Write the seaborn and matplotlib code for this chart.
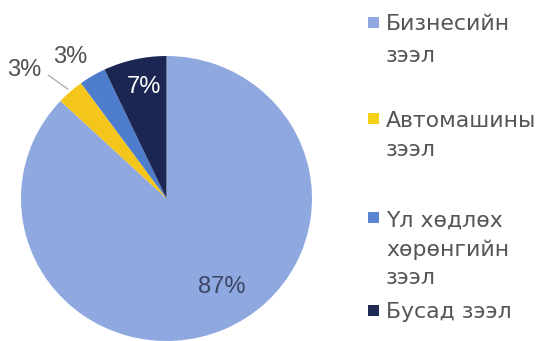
import numpy as np
import matplotlib
matplotlib.use("Agg")
import matplotlib.pyplot as plt
from matplotlib.patches import Rectangle
import seaborn as sns

# Loan portfolio structure (percent)
categories = ["Бизнесийн зээл", "Автомашины зээл", "Үл хөдлөх хөрөнгийн зээл", "Бусад зээл"]
legend_lines = [["Бизнесийн", "зээл"], ["Автомашины", "зээл"],
                ["Үл хөдлөх", "хөрөнгийн", "зээл"], ["Бусад зээл"]]
shares = [87, 3, 3, 7]

colors = ["#8fa8e0", "#f4c51a", "#4d7dcc", "#1c2652"]
legend_colors = ["#8fa8e0", "#f4d21a", "#5b84d2", "#1f2a55"]

sns.set_theme(style="white")
plt.rcParams["font.family"] = ["Liberation Sans", "DejaVu Sans"]

W, H = 543, 341
fig = plt.figure(figsize=(W / 100, H / 100), dpi=100)
fig.patch.set_facecolor("white")

# pie axes: spans the circle's bounding box in pixels
left, right, top, bottom = 21, 312, 56, 341
ax = fig.add_axes([left / W, 1 - bottom / H, (right - left) / W, (bottom - top) / H])

wedges, _ = ax.pie(shares, colors=colors, startangle=90, counterclock=False,
                   radius=1.0, wedgeprops=dict(linewidth=0))
ax.set_aspect("auto")
ax.set_xlim(-1, 1)
ax.set_ylim(-1, 1)
ax.axis("off")

# percentage labels: (radius, angular shift, colour)
label_style = [(0.73, 8, "#3c4566"), (1.33, 6, "#505050"),
               (1.19, 3, "#505050"), (0.80, -1.5, "white")]
for w, val, (r, shift, col) in zip(wedges, shares, label_style):
    mid = np.deg2rad((w.theta1 + w.theta2) / 2 + shift)
    ax.text(r * np.cos(mid), r * np.sin(mid), f"{val}%", ha="center", va="center",
            fontsize=17, color=col, family=["Liberation Sans", "DejaVu Sans"])

# leader line for the yellow slice label
w = wedges[1]
mid = np.deg2rad((w.theta1 + w.theta2) / 2)
ax.plot([1.02 * np.cos(mid), -0.814], [1.02 * np.sin(mid), 0.867],
        color="#a0a0a0", lw=0.8, solid_capstyle="butt", clip_on=False)

# legend drawn as text blocks
baselines = [[30, 62], [127, 156], [227, 256, 284], [318]]
marker_tops = [17, 113, 212, 305]
text_x = 386
for lines, ys, mt, col in zip(legend_lines, baselines, marker_tops, legend_colors):
    fig.patches.append(Rectangle(((368) / W, 1 - (mt + 11) / H), 11 / W, 11 / H,
                                 transform=fig.transFigure, facecolor=col,
                                 edgecolor="none"))
    for line, y in zip(lines, ys):
        fig.text(text_x / W, 1 - y / H, line, ha="left", va="baseline",
                 fontsize=15.8, color="#555555", family=["DejaVu Sans"])

fig.savefig("out.png", dpi=100)
